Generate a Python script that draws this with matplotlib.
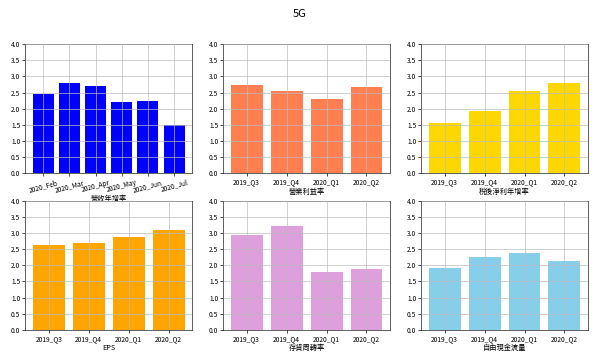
import matplotlib.pyplot as plt
import numpy as np

plt.rcParams['font.family'] = ['Noto Sans CJK TC', 'DejaVu Sans']

months = ['2020_Feb', '2020_Mar', '2020_Apr', '2020_May', '2020_Jun', '2020_Jul']
quarters = ['2019_Q3', '2019_Q4', '2020_Q1', '2020_Q2']

revenue_yoy = [2.45, 2.8, 2.7, 2.2, 2.25, 1.5]
op_margin = [2.75, 2.56, 2.3, 2.66]
net_income_yoy = [1.56, 1.93, 2.56, 2.8]
eps = [2.63, 2.7, 2.88, 3.08]
inventory_turnover = [2.93, 3.2, 1.8, 1.87]
free_cash_flow = [1.93, 2.25, 2.38, 2.13]

panels = [
    (months, revenue_yoy, 'blue', '營收年增率'),
    (quarters, op_margin, 'coral', '營業利益率'),
    (quarters, net_income_yoy, 'gold', '稅後淨利年增率'),
    (quarters, eps, 'orange', 'EPS'),
    (quarters, inventory_turnover, 'plum', '存貨周轉率'),
    (quarters, free_cash_flow, 'skyblue', '自由現金流量'),
]

fig, axes = plt.subplots(2, 3, figsize=(6, 3.59), dpi=100)
fig.subplots_adjust(left=0.042, right=0.98, top=0.877, bottom=0.081,
                    wspace=0.186, hspace=0.21)
fig.suptitle('5G', fontsize=8, y=0.975)

for ax, (labels, vals, color, name) in zip(axes.flat, panels):
    ax.bar(labels, vals, color=color, width=0.8, zorder=1)
    ax.set_ylim(0, 4)
    ax.set_yticks(np.arange(0, 4.01, 0.5))
    ax.grid(True, color='#bbbbbb', linewidth=0.6, alpha=0.8, zorder=3)
    ax.set_axisbelow(False)
    ax.tick_params(labelsize=4.8, length=2, width=0.5, pad=1.5)
    ax.set_xlabel(name, fontsize=5.2, labelpad=1)
    for s in ax.spines.values():
        s.set_linewidth(0.6)
        s.set_color('#444444')

for lbl in axes[0, 0].get_xticklabels():
    lbl.set_rotation(15)

fig.savefig('out.png', dpi=100)
